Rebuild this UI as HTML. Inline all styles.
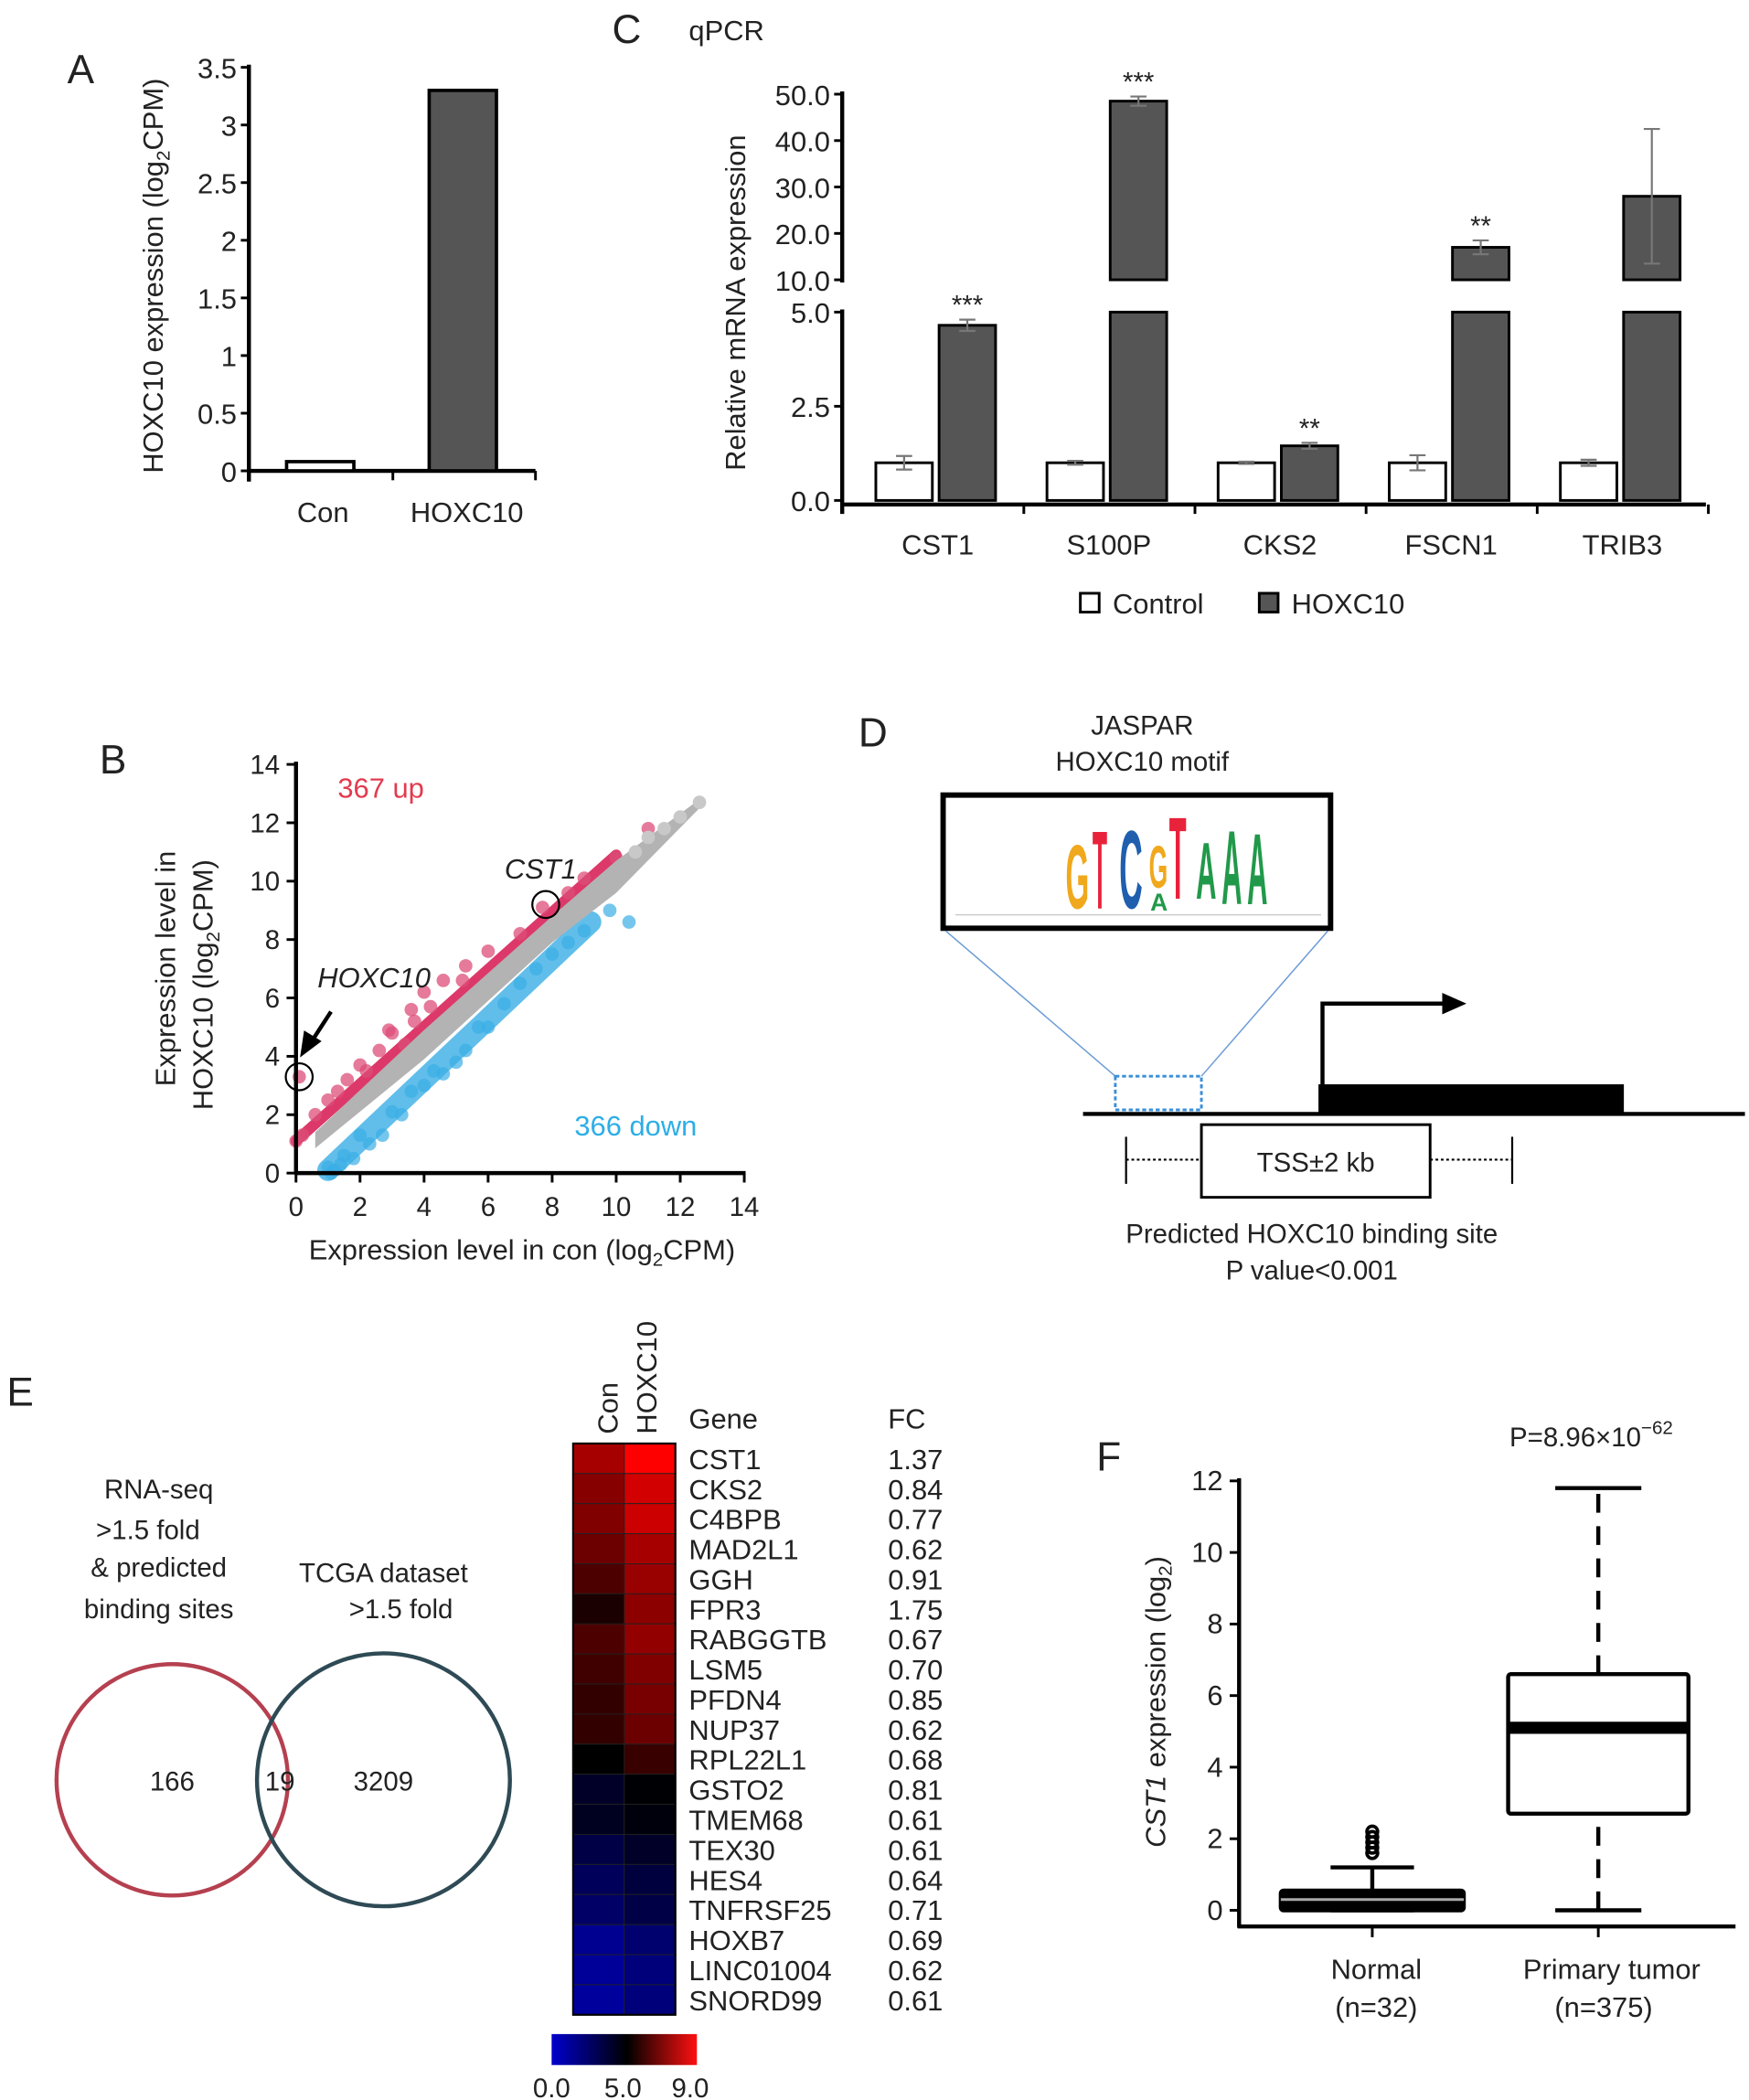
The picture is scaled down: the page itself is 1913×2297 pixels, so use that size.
<!DOCTYPE html>
<html><head><meta charset="utf-8"><style>
html,body{margin:0;padding:0;background:#fff}
svg{display:block}
text{font-family:"Liberation Sans",Arial,sans-serif;fill:#222}
</style></head><body>
<svg id="fig" width="1913" height="2297" viewBox="0 0 1300 1561" xmlns="http://www.w3.org/2000/svg">
<text x="50" y="62" font-size="30">A</text>
<text x="455" y="32" font-size="30">C</text>
<text x="512" y="30" font-size="21">qPCR</text>
<text x="74" y="575" font-size="30">B</text>
<text x="638" y="555" font-size="30">D</text>
<text x="5" y="1045" font-size="30">E</text>
<text x="815" y="1093" font-size="30">F</text>
<g id="A"></g>
<g id="C"></g>
<g id="B"></g>
<g id="D">
  <text x="849" y="546" font-size="20" text-anchor="middle">JASPAR</text>
  <text x="849" y="573" font-size="20" text-anchor="middle">HOXC10 motif</text>
  <rect x="701" y="591" width="288" height="99" fill="#fff" stroke="#000" stroke-width="4"/>
  <g font-weight="bold">
    <text transform="translate(792,675) scale(0.75,2.25)" font-size="30" style="fill:#f0a81c">G</text>
    <text transform="translate(812,675) scale(0.6,2.75)" font-size="30" style="fill:#e8223a">T</text>
    <text transform="translate(832,675) scale(0.8,2.75)" font-size="30" style="fill:#1f5fae">C</text>
    <text transform="translate(854,660) scale(0.6,1.5)" font-size="30" style="fill:#f0a81c">G</text>
    <text transform="translate(855,677) scale(0.6,0.6)" font-size="30" style="fill:#21994a">A</text>
    <text transform="translate(869,668) scale(0.7,2.9)" font-size="30" style="fill:#e8223a">T</text>
    <text transform="translate(889,668) scale(0.7,2.0)" font-size="30" style="fill:#21994a">A</text>
    <text transform="translate(908,672) scale(0.7,2.6)" font-size="30" style="fill:#21994a">A</text>
    <text transform="translate(927,672) scale(0.7,2.5)" font-size="30" style="fill:#21994a">A</text>
  </g>
  <line x1="710" y1="680" x2="982" y2="680" stroke="#ccc" stroke-width="1"/>
  <line x1="703" y1="692" x2="829" y2="800" stroke="#6a9bd6" stroke-width="1"/>
  <line x1="987" y1="692" x2="893" y2="800" stroke="#6a9bd6" stroke-width="1"/>
  <rect x="829" y="800" width="64" height="25" fill="none" stroke="#3b8fd8" stroke-width="2" stroke-dasharray="3,2"/>
  <line x1="805" y1="828" x2="1297" y2="828" stroke="#000" stroke-width="3"/>
  <rect x="980" y="806" width="227" height="22" fill="#000"/>
  <polyline points="983,806 983,746 1075,746" fill="none" stroke="#000" stroke-width="3"/>
  <polygon points="1072,738 1090,746 1072,754" fill="#000"/>
  <line x1="837" y1="845" x2="837" y2="880" stroke="#000" stroke-width="1.5"/>
  <line x1="1124" y1="845" x2="1124" y2="880" stroke="#000" stroke-width="1.5"/>
  <line x1="837" y1="862" x2="893" y2="862" stroke="#000" stroke-width="1.5" stroke-dasharray="2,2"/>
  <line x1="1063" y1="862" x2="1124" y2="862" stroke="#000" stroke-width="1.5" stroke-dasharray="2,2"/>
  <rect x="893" y="836" width="170" height="54" fill="#fff" stroke="#000" stroke-width="2"/>
  <text x="978" y="871" font-size="20" text-anchor="middle">TSS±2 kb</text>
  <text x="975" y="924" font-size="20" text-anchor="middle">Predicted HOXC10 binding site</text>
  <text x="975" y="951" font-size="20" text-anchor="middle">P value&lt;0.001</text>
</g>
<g id="E">
  <text x="118" y="1114" font-size="20" text-anchor="middle">RNA-seq</text>
  <text x="110" y="1144" font-size="20" text-anchor="middle">&gt;1.5 fold</text>
  <text x="118" y="1172" font-size="20" text-anchor="middle">&amp; predicted</text>
  <text x="118" y="1203" font-size="20" text-anchor="middle">binding sites</text>
  <text x="285" y="1176" font-size="20" text-anchor="middle">TCGA dataset</text>
  <text x="298" y="1203" font-size="20" text-anchor="middle">&gt;1.5 fold</text>
  <circle cx="128" cy="1323" r="86" fill="none" stroke="#b5404f" stroke-width="3"/>
  <circle cx="285" cy="1323" r="94" fill="none" stroke="#2e4a55" stroke-width="3"/>
  <text x="128" y="1331" font-size="20" text-anchor="middle">166</text>
  <text x="208" y="1331" font-size="20" text-anchor="middle">19</text>
  <text x="285" y="1331" font-size="20" text-anchor="middle">3209</text>
</g>
<g id="H"></g>
<g id="F"></g>
</svg>
<script>
const NS='http://www.w3.org/2000/svg';
function mk(parent,tag,attrs,txt){const e=document.createElementNS(NS,tag);for(const k in attrs)e.setAttribute(k,attrs[k]);if(txt!==undefined)e.textContent=txt;parent.appendChild(e);return e;}

// ---------- Panel A data ----------
const aCategories=['Con','HOXC10'];
const aValues=[0.08,3.3];
const aTicks=['0','0.5','1','1.5','2','2.5','3','3.5'];
// ---------- Panel C data ----------
const cGenes=['CST1','S100P','CKS2','FSCN1','TRIB3'];
const cControl=[1.0,1.0,1.0,1.0,1.0];
const cControlErr=[0.18,0.05,0.03,0.2,0.08];
const cHoxc=[4.65,48.5,1.45,17,28];
const cHoxcErr=[0.15,1.0,0.08,1.5,14.5];
const cStars=['***','***','**','**',''];
const cLowTicks=['0.0','2.5','5.0'];
const cHighTicks=['10.0','20.0','30.0','40.0','50.0'];
// ---------- Panel B data ----------
const bTicks=[0,2,4,6,8,10,12,14];
const bGrayUpper=[[0.6,1.4],[4,4.9],[8,8.8],[10,10.7],[12.6,12.8]];
const bGrayLower=[[0.6,0.85],[4,3.9],[8,7.9],[10,9.6],[12.6,12.5]];
const bRedBand=[[0,1.1],[10,10.9]];
const bBlueBand=[[1,0.1],[9.2,8.6]];
const bUpX=[0,0.2,0.6,1,1.3,1.6,2,2.2,2.6,3,3.4,3.7,4,4.2,4.6,5.2,5.3,6,7,7.7,8.5,9,10,11,0.1,3.6,2.9];
const bUpY=[1.1,1.3,2.0,2.5,2.8,3.2,3.7,3.5,4.2,4.8,4.4,5.2,6.2,5.7,6.6,6.6,7.1,7.6,8.2,9.1,9.6,10.1,10.8,11.8,3.3,5.6,4.9];
const bDownX=[1,1.2,1.5,1.8,2,2.3,2.7,3,3.3,3.6,4,4.3,4.6,5,5.3,5.7,6,6.5,7,7.5,8,8.5,9,9.8,10.4,1.1,1.4];
const bDownY=[0.2,0.1,0.6,0.5,1.3,1.0,1.3,2.1,2.0,2.8,3.0,3.5,3.4,3.8,4.2,5.0,5.0,5.8,6.5,7.0,7.5,7.9,8.3,9.0,8.6,0.0,0.3];
const bGrayExtraX=[11.5,12,12.6,11,10.6];
const bGrayExtraY=[11.8,12.2,12.7,11.5,11.0];
// ---------- Heatmap data ----------
const hGenes=['CST1','CKS2','C4BPB','MAD2L1','GGH','FPR3','RABGGTB','LSM5','PFDN4','NUP37','RPL22L1','GSTO2','TMEM68','TEX30','HES4','TNFRSF25','HOXB7','LINC01004','SNORD99'];
const hFC=['1.37','0.84','0.77','0.62','0.91','1.75','0.67','0.70','0.85','0.62','0.68','0.81','0.61','0.61','0.64','0.71','0.69','0.62','0.61'];
const hCon=[7.6,7.1,7.0,6.7,6.2,5.4,6.2,6.0,5.8,5.8,5.0,4.0,4.2,3.3,2.8,2.5,1.5,1.3,1.2];
const hHox=[9.0,8.3,8.2,7.6,7.4,7.2,7.3,7.0,6.9,6.7,5.9,4.9,4.7,4.0,3.5,3.3,2.3,2.0,2.0];
const hScaleTicks=['0.0','5.0','9.0'];
// ---------- Panel F data ----------
const fGroups=['Normal','Primary tumor'];
const fN=['(n=32)','(n=375)'];
const fMin=[0,0];
const fQ1=[0,2.7];
const fMed=[0.3,5.1];
const fQ3=[0.55,6.6];
const fMax=[1.2,11.8];
const fOutliers=[1.6,1.75,1.9,2.05,2.2];
const fTicks=[0,2,4,6,8,10,12];

// ===== Panel A =====
(function(){
 const g=document.getElementById('A');
 const AX=185;
 const y=v=>350-v*85.7;
 mk(g,'line',{x1:AX,y1:350,x2:398,y2:350,stroke:'#000','stroke-width':3,});
 mk(g,'line',{x1:AX,y1:y(3.5)-2,x2:AX,y2:358,stroke:'#000','stroke-width':3,});
 aTicks.forEach((t,i)=>{const v=i*0.5;
  mk(g,'line',{x1:AX-6,y1:y(v),x2:AX,y2:y(v),stroke:'#000','stroke-width':2});
  mk(g,'text',{x:AX-9,y:y(v)+8,'font-size':21,'text-anchor':'end'},t);});
 const cx=[238,344];
 aCategories.forEach((c,i)=>{
  const r=mk(g,'rect',{x:cx[i]-25,y:y(aValues[i]),width:50,height:350-y(aValues[i]),fill:i?'#555':'#fff',stroke:'#000','stroke-width':2.5});
  
  
  mk(g,'text',{x:cx[i]+(i?3:2),y:388,'font-size':21,'text-anchor':'middle'},c);
 });
 [292,398].forEach(x=>mk(g,'line',{x1:x,y1:350,x2:x,y2:357,stroke:'#000','stroke-width':2}));
 const t=mk(g,'text',{transform:'translate(121,205) rotate(-90)','font-size':21,'text-anchor':'middle'});
 
 
 t.innerHTML='HOXC10 expression (log<tspan font-size="14" dy="5">2</tspan><tspan dy="-5">CPM)</tspan>';
})();

// ===== Panel C =====
(function(){
 const g=document.getElementById('C');
 const AX=626;
 const yl=v=>372-v*28;
 const yh=v=>208-(v-10)*3.45;
 const yv=v=>v<=5?yl(v):yh(v);
 mk(g,'line',{x1:AX,y1:375,x2:1268,y2:375,stroke:'#000','stroke-width':3,});
 mk(g,'line',{x1:AX,y1:382,x2:AX,y2:230,stroke:'#000','stroke-width':3,});
 mk(g,'line',{x1:AX,y1:210,x2:AX,y2:68,stroke:'#000','stroke-width':3,});
 cLowTicks.forEach(t=>{const v=parseFloat(t);mk(g,'line',{x1:AX-6,y1:yl(v),x2:AX,y2:yl(v),stroke:'#000','stroke-width':2});mk(g,'text',{x:AX-9,y:yl(v)+8,'font-size':21,'text-anchor':'end'},t);});
 cHighTicks.forEach(t=>{const v=parseFloat(t);mk(g,'line',{x1:AX-6,y1:yh(v),x2:AX,y2:yh(v),stroke:'#000','stroke-width':2});mk(g,'text',{x:AX-9,y:yh(v)+8,'font-size':21,'text-anchor':'end'},t);});
 const tt=mk(g,'text',{transform:'translate(554,225) rotate(-90)','font-size':21,'text-anchor':'middle'},'Relative mRNA expression');
 
 
 function bar(x,v,err,fill,name){
  const w=42;
  if(v<=5){const r=mk(g,'rect',{x:x,y:yl(v),width:w,height:372-yl(v),fill:fill,stroke:'#000','stroke-width':2});}
  else{const r=mk(g,'rect',{x:x,y:yl(5),width:w,height:372-yl(5),fill:fill,stroke:'#000','stroke-width':2});
   const r2=mk(g,'rect',{x:x,y:yh(v),width:w,height:yh(10)-yh(v),fill:fill,stroke:'#000','stroke-width':2});}
  const cx=x+w/2, a=yv(v+err), b=yv(Math.max(v-err,0));
  mk(g,'line',{x1:cx,y1:a,x2:cx,y2:b,stroke:'#777','stroke-width':1.5});
  mk(g,'line',{x1:cx-6,y1:a,x2:cx+6,y2:a,stroke:'#777','stroke-width':1.5});
  mk(g,'line',{x1:cx-6,y1:b,x2:cx+6,y2:b,stroke:'#777','stroke-width':1.5});
  return a;
 }
 cGenes.forEach((gn,i)=>{
  const gx=698+i*127.2;
  bar(gx-47,cControl[i],cControlErr[i],'#fff','c-bar-control-'+gn.toLowerCase());
  const top=bar(gx,cHoxc[i],cHoxcErr[i],'#555','c-bar-hoxc10-'+gn.toLowerCase());
  if(cStars[i])mk(g,'text',{x:gx+21,y:top-4,'font-size':20,'text-anchor':'middle'},cStars[i]);
  mk(g,'text',{x:gx-1,y:412,'font-size':21,'text-anchor':'middle'},gn);
  mk(g,'line',{x1:gx+63,y1:375,x2:gx+63,y2:382,stroke:'#000','stroke-width':2});
 });
 const l1=mk(g,'rect',{x:803,y:441,width:14,height:14,fill:'#fff',stroke:'#000','stroke-width':2});
 
 mk(g,'text',{x:827,y:456,'font-size':21},'Control');
 const l2=mk(g,'rect',{x:936,y:441,width:14,height:14,fill:'#555',stroke:'#000','stroke-width':2});
 
 mk(g,'text',{x:960,y:456,'font-size':21},'HOXC10');
})();

// ===== Panel B =====
(function(){
 const g=document.getElementById('B');
 const x=v=>220+v*23.8, y=v=>872-v*21.7;
 const band=bGrayUpper.map(p=>x(p[0])+','+y(p[1])).concat(bGrayLower.slice().reverse().map(p=>x(p[0])+','+y(p[1]))).join(' ');
 const bl=mk(g,'line',{x1:x(bBlueBand[0][0]),y1:y(bBlueBand[0][1]),x2:x(bBlueBand[1][0]),y2:y(bBlueBand[1][1]),stroke:'#3aaee6','stroke-width':16,'stroke-linecap':'round',opacity:0.8});
 
 const rl=mk(g,'line',{x1:x(bRedBand[0][0]),y1:y(bRedBand[0][1]),x2:x(bRedBand[1][0]),y2:y(bRedBand[1][1]),stroke:'#d9245a','stroke-width':8,'stroke-linecap':'round',opacity:0.9});
 
 bUpX.forEach((v,i)=>{const c=mk(g,'circle',{cx:x(v),cy:y(bUpY[i]),r:5,fill:'#dc4d78',opacity:0.75});});
 bDownX.forEach((v,i)=>{const c=mk(g,'circle',{cx:x(v),cy:y(bDownY[i]),r:5,fill:'#3aaee6',opacity:0.7});});
 const gb=mk(g,'polygon',{points:band,fill:'#b3b3b3'});
 
 bGrayExtraX.forEach((v,i)=>{const c=mk(g,'circle',{cx:x(v),cy:y(bGrayExtraY[i]),r:5,fill:'#c8c8c8'});});
 mk(g,'line',{x1:x(0),y1:y(14)-2,x2:x(0),y2:y(0)+1,stroke:'#000','stroke-width':3,});
 mk(g,'line',{x1:x(0)-1,y1:y(0),x2:x(14)+1,y2:y(0),stroke:'#000','stroke-width':3,});
 bTicks.forEach(v=>{
  mk(g,'line',{x1:x(v),y1:y(0),x2:x(v),y2:y(0)+7,stroke:'#000','stroke-width':2});
  mk(g,'text',{x:x(v),y:904,'font-size':20,'text-anchor':'middle'},v);
  mk(g,'line',{x1:x(0)-7,y1:y(v),x2:x(0),y2:y(v),stroke:'#000','stroke-width':2});
  mk(g,'text',{x:x(0)-12,y:y(v)+7,'font-size':20,'text-anchor':'end'},v);
 });
 mk(g,'circle',{cx:x(0.1),cy:y(3.3),r:10,fill:'none',stroke:'#000','stroke-width':1.5,});
 mk(g,'circle',{cx:x(7.8),cy:y(9.2),r:10,fill:'none',stroke:'#000','stroke-width':1.5,});
 mk(g,'line',{x1:246,y1:752,x2:233,y2:772,stroke:'#000','stroke-width':3});
 mk(g,'polygon',{points:'223,786 226,766 239,774',fill:'#000'});
 mk(g,'text',{x:236,y:734,'font-size':21,'font-style':'italic'},'HOXC10');
 mk(g,'text',{x:375,y:653,'font-size':21,'font-style':'italic'},'CST1');
 mk(g,'text',{x:251,y:593,'font-size':21,style:'fill:#e23b4e'},'367 up');
 mk(g,'text',{x:427,y:844,'font-size':21,style:'fill:#2eaee6'},'366 down');
 const xt=mk(g,'text',{x:388,y:936,'font-size':21,'text-anchor':'middle'});
 
 xt.innerHTML='Expression level in con (log<tspan font-size="14" dy="5">2</tspan><tspan dy="-5">CPM)</tspan>';
 const yt=mk(g,'text',{transform:'translate(130,720) rotate(-90)','font-size':21,'text-anchor':'middle'},'Expression level in');
 
 const yt2=mk(g,'text',{transform:'translate(158,732) rotate(-90)','font-size':21,'text-anchor':'middle'});
 
 yt2.innerHTML='HOXC10 (log<tspan font-size="14" dy="5">2</tspan><tspan dy="-5">CPM)</tspan>';
})();

// ===== Heatmap =====
(function(){
 const g=document.getElementById('H');
 function col(v){
  const t=Math.max(0,Math.min(9,v));
  if(t<=5){const f=t/5;return 'rgb(0,0,'+Math.round(205*(1-f))+')';}
  const f=(t-5)/4;return 'rgb('+Math.round(255*f)+',0,0)';
 }
 const x0=426,cw=38,y0=1073,rh=22.35;
 hGenes.forEach((gn,i)=>{
  const yy=y0+i*rh;
  const a=mk(g,'rect',{x:x0,y:yy,width:cw,height:rh,fill:col(hCon[i]),stroke:'#222','stroke-width':0.6});
  
  const b=mk(g,'rect',{x:x0+cw,y:yy,width:cw,height:rh,fill:col(hHox[i]),stroke:'#222','stroke-width':0.6});
  
  mk(g,'text',{x:512,y:yy+19,'font-size':21},gn);
  mk(g,'text',{x:660,y:yy+19,'font-size':21},hFC[i]);
 });
 mk(g,'rect',{x:x0,y:y0,width:2*cw,height:rh*hGenes.length,fill:'none',stroke:'#000','stroke-width':1.5});
 mk(g,'text',{transform:'translate(459,1066) rotate(-90)','font-size':21},'Con');
 mk(g,'text',{transform:'translate(488,1066) rotate(-90)','font-size':21},'HOXC10');
 mk(g,'text',{x:512,y:1062,'font-size':21},'Gene');
 mk(g,'text',{x:660,y:1062,'font-size':21},'FC');
 const defs=mk(g,'defs',{});
 const lg=mk(defs,'linearGradient',{id:'cb',x1:0,x2:1,y1:0,y2:0});
 mk(lg,'stop',{offset:'0','stop-color':'rgb(0,0,205)'});
 mk(lg,'stop',{offset:'0.52','stop-color':'#000'});
 mk(lg,'stop',{offset:'1','stop-color':'#ff1010'});
 const cb=mk(g,'rect',{x:410,y:1512,width:108,height:23,fill:'url(#cb)'});
 
 const tx=[410,463,513];
 hScaleTicks.forEach((t,i)=>mk(g,'text',{x:tx[i],y:1559,'font-size':20,'text-anchor':'middle'},t));
})();

// ===== Panel F =====
(function(){
 const g=document.getElementById('F');
 const AX=921;
 const y=v=>1420-v*26.6;
 mk(g,'line',{x1:AX,y1:y(12)-2,x2:AX,y2:1433,stroke:'#000','stroke-width':3,});
 mk(g,'line',{x1:AX-1,y1:1432,x2:1290,y2:1432,stroke:'#000','stroke-width':3,});
 fTicks.forEach(v=>{mk(g,'line',{x1:AX-7,y1:y(v),x2:AX,y2:y(v),stroke:'#000','stroke-width':2});mk(g,'text',{x:AX-12,y:y(v)+7,'font-size':21,'text-anchor':'end'},v);});
 const cx=[1020,1188],bw=[136,134],cap=[62,64];
 fGroups.forEach((n,i)=>{
  const c=cx[i];
  mk(g,'line',{x1:c,y1:1432,x2:c,y2:1440,stroke:'#000','stroke-width':2});
  const dash=i?'14,10':'';
  mk(g,'line',{x1:c,y1:y(fQ3[i]),x2:c,y2:y(fMax[i]),stroke:'#000','stroke-width':3,'stroke-dasharray':dash});
  if(fQ1[i]>fMin[i])mk(g,'line',{x1:c,y1:y(fMin[i]),x2:c,y2:y(fQ1[i]),stroke:'#000','stroke-width':3,'stroke-dasharray':dash});
  mk(g,'line',{x1:c-cap[i]/2,y1:y(fMax[i]),x2:c+cap[i]/2,y2:y(fMax[i]),stroke:'#000','stroke-width':3});
  mk(g,'line',{x1:c-cap[i]/2,y1:y(fMin[i]),x2:c+cap[i]/2,y2:y(fMin[i]),stroke:'#000','stroke-width':3});
  const bx=mk(g,'rect',{x:c-bw[i]/2,y:y(fQ3[i]),width:bw[i],height:y(fQ1[i])-y(fQ3[i]),fill:i?'#fff':'#000',stroke:'#000','stroke-width':3,rx:2});
  
  mk(g,'line',{x1:c-bw[i]/2,y1:y(fMed[i]),x2:c+bw[i]/2,y2:y(fMed[i]),stroke:i?'#000':'#aaa','stroke-width':i?9:2});
  mk(g,'text',{x:i?c+10:c+3,y:1471,'font-size':21,'text-anchor':'middle'},n);
  mk(g,'text',{x:i?c+4:c+3,y:1499,'font-size':21,'text-anchor':'middle'},fN[i]);
 });
 fOutliers.forEach(v=>{const o=mk(g,'circle',{cx:1020,cy:y(v),r:4,fill:'none',stroke:'#000','stroke-width':2.5});});
 const pt=mk(g,'text',{x:1122,y:1075,'font-size':20});
 pt.innerHTML='P=8.96×10<tspan font-size="14" dy="-9">−62</tspan>';
 const yt=mk(g,'text',{transform:'translate(866,1265) rotate(-90)','font-size':21,'text-anchor':'middle'});
 
 yt.innerHTML='<tspan font-style="italic">CST1</tspan> expression (log<tspan font-size="14" dy="5">2</tspan><tspan dy="-5">)</tspan>';
})();
</script>
</body></html>
